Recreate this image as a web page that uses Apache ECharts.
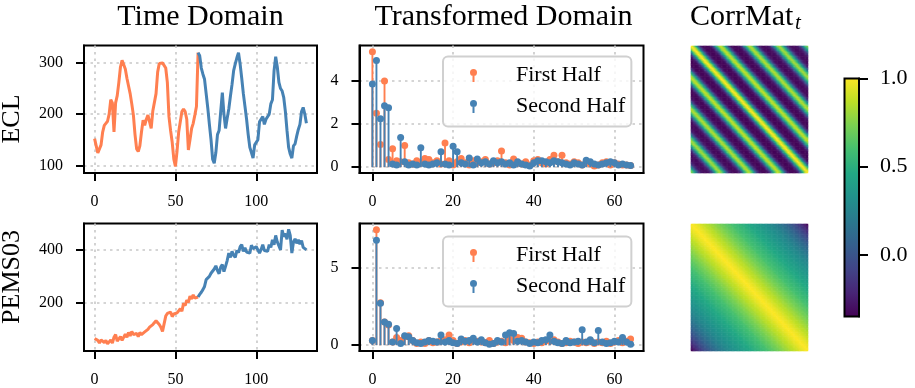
<!DOCTYPE html>
<html>
<head>
<meta charset="utf-8">
<script src="https://cdn.jsdelivr.net/npm/echarts@6/dist/echarts.min.js"></script>
<style>
  html, body { margin: 0; padding: 0; background: #fff; }
  #chart { width: 915px; height: 388px; }
</style>
</head>
<body>
<div id="chart"></div>
<script>
// ---- time domain: the series split in two halves (first half ends where the second starts)
const splitAt = 64
const eclFirst = [
  152,138,124,122,140,165,178,182,186,200,
  228,222,165,222,236,262,292,305,302,288,
  270,255,240,220,198,160,132,127,138,165,
  188,178,190,198,200,172,206,208,240,282,
  299,300,300,299,290,262,195,168,145,112,
  98,128,165,168,205,210,205,190,130,150,
  172,182,198,215,320
]
const eclSecond = [
  320,314,290,278,268,240,212,180,150,112,
  104,125,160,168,205,242,200,172,192,210,
  235,258,285,298,310,320,298,270,240,215,
  190,160,135,125,114,140,142,150,185,188,
  195,180,190,188,200,220,228,285,312,292,
  262,250,245,232,205,168,135,122,114,138,
  142,157,170,180,205,213,200,182
]
const pemsFirst = [
  65,62,58,48,60,55,50,58,45,42,
  60,48,70,80,55,62,72,58,65,82,
  70,88,75,92,80,78,85,72,88,80,
  82,90,86,100,108,102,118,115,132,128,
  118,108,92,86,150,160,155,165,148,158,
  152,162,170,178,168,198,190,210,202,225,
  215,230,218,212,222
]
const pemsSecond = [
  222,232,240,250,262,288,292,300,312,305,
  328,340,322,310,335,345,318,338,360,388,
  372,395,380,372,398,390,412,420,395,408,
  392,398,388,418,405,410,412,400,388,402,
  420,398,405,395,420,410,438,420,455,430,
  425,400,475,450,462,440,478,455,388,430,
  442,425,438,422,435,410,415,400
]

// ---- transformed domain: amplitude per frequency bin (0..64)
const eclSpecFirst = [
  5.35,2.5,1.05,4.0,0.35,0.85,0.3,0.25,1.0,0.2,
  0.15,0.3,0.2,0.4,0.35,0.2,0.3,0.15,1.12,0.3,
  0.1,0.25,0.4,0.2,0.1,0.3,0.2,0.25,0.35,0.15,
  0.2,0.3,0.75,0.2,0.1,0.38,0.2,0.15,0.25,0.1,
  0.3,0.35,0.2,0.15,0.35,0.55,0.25,0.55,0.2,0.15,
  0.25,0.2,0.1,0.2,0.15,0.05,0.1,0.2,0.25,0.1,
  0.2,0.15,0.1,0.1,0.08
]
const eclSpecSecond = [
  3.85,4.95,2.25,2.85,2.75,0.15,0.1,1.38,0.25,0.1,
  0.15,0.1,0.9,0.15,0.1,0.15,0.2,0.72,0.15,0.1,
  0.97,0.72,0.2,0.15,0.42,0.1,0.38,0.2,0.25,0.15,
  0.3,0.2,0.25,0.15,0.2,0.1,0.25,0.15,0.1,0.05,
  0.2,0.3,0.3,0.25,0.2,0.3,0.25,0.2,0.15,0.1,
  0.2,0.15,0.1,0.32,0.25,0.15,0.1,0.15,0.2,0.25,
  0.2,0.1,0.15,0.1,0.08
]
const pemsSpecFirst = [
  0.3,7.48,2.75,1.5,1.3,0.2,0.5,0.3,0.55,0.6,
  0.3,0.1,0.2,0.1,0.3,0.15,0.2,0.3,0.35,0.65,
  0.3,0.1,0.2,0.3,0.15,0.3,0.25,0.2,0.15,0.3,
  0.1,0.2,0.25,0.15,0.4,0.3,0.5,0.45,0.2,0.15,
  0.1,0.2,0.15,0.3,0.25,0.35,0.2,0.1,0.15,0.25,
  0.2,0.1,0.2,0.15,0.3,0.1,0.2,0.15,0.25,0.1,
  0.2,0.3,0.15,0.25,0.4
]
const pemsSpecSecond = [
  0.3,6.8,2.72,1.5,1.35,0.2,1.08,0.1,0.6,0.55,
  0.3,0.15,0.1,0.2,0.3,0.25,0.2,0.65,0.2,0.3,
  0.15,0.1,0.4,0.25,0.3,0.45,0.2,0.35,0.15,0.05,
  0.1,0.3,0.2,0.65,0.8,0.75,0.25,0.3,0.2,0.1,
  0.2,0.15,0.3,0.35,0.65,0.25,0.15,0.1,0.3,0.15,
  0.2,0.25,1.0,0.2,0.35,0.15,0.95,0.2,0.1,0.15,
  0.25,0.2,0.5,0.2,0.05
]

// ---- CorrMat_t: correlation as a function of lag |i-j| (96 x 96 matrices)
const eclLagCorr = [
  1.00,0.93,0.82,0.65,0.45,0.22,0.00,-0.15,-0.25,-0.30,-0.32,-0.33,-0.33,
  -0.33,-0.32,-0.30,-0.25,-0.15,0.00,0.20,0.40,0.58,0.72,0.82,0.87,
  0.82,0.72,0.57,0.39,0.19,-0.01,-0.15,-0.25,-0.30,-0.32,-0.33,-0.33,
  -0.32,-0.31,-0.29,-0.24,-0.15,-0.01,0.18,0.38,0.55,0.69,0.79,0.84,
  0.79,0.69,0.55,0.37,0.17,-0.02,-0.15,-0.24,-0.29,-0.31,-0.32,-0.32,
  -0.31,-0.30,-0.28,-0.23,-0.14,-0.01,0.17,0.36,0.53,0.66,0.76,0.81,
  0.76,0.66,0.52,0.35,0.16,-0.02,-0.15,-0.23,-0.28,-0.30,-0.31,-0.31,
  -0.30,-0.29,-0.27,-0.22,-0.14,-0.01,0.16,0.34,0.50,0.63,0.72
]
const pemsLagCorr = [
  1.00,0.99,0.98,0.97,0.96,0.95,0.94,0.92,0.91,0.90,
  0.88,0.87,0.86,0.85,0.84,0.82,0.81,0.80,0.79,0.77,
  0.76,0.75,0.74,0.72,0.71,0.70,0.69,0.67,0.66,0.65,
  0.64,0.63,0.61,0.60,0.59,0.58,0.57,0.56,0.55,0.54,
  0.53,0.52,0.51,0.50,0.49,0.48,0.47,0.46,0.45,0.44,
  0.43,0.42,0.41,0.40,0.39,0.38,0.37,0.36,0.35,0.34,
  0.33,0.32,0.31,0.30,0.29,0.28,0.27,0.26,0.24,0.23,
  0.22,0.20,0.19,0.17,0.16,0.14,0.12,0.11,0.09,0.07,
  0.05,0.03,0.01,-0.01,-0.03,-0.05,-0.08,-0.10,-0.12,-0.15,
  -0.17,-0.20,-0.23,-0.26,-0.29,-0.32
]

// ---- tick values
const timeXTicks = [0, 50, 100]
const freqXTicks = [0, 20, 40, 60]
const eclTimeYTicks = [100, 200, 300]
const pemsTimeYTicks = [200, 400]
const eclFreqYTicks = [0, 2, 4]
const pemsFreqYTicks = [0, 5]
const cbarTicks = [0, 0.5, 1.0]
const corrMin = -0.35
const corrMax = 1.0

const ORANGE = '#FF7F50'
const BLUE = '#4682B4'
const FONT = 'Liberation Serif'
const VIRIDIS = ['#440154','#482475','#414487','#355f8d','#2a788e','#21918c','#22a884','#44bf70','#7ad151','#bddf26','#fde725']
const STEM_ICON = 'path://M0,3.5A3.5,3.5 0 1,1 7,3.5A3.5,3.5 0 1,1 0,3.5ZM2.5,5L4.5,5L4.5,13L2.5,13Z'

// helpers
const withX = (arr, start) => arr.map((v, i) => [start + i, v])
function corrCells(lag) {
  const n = lag.length, cells = []
  for (let i = 0; i < n; i++) for (let j = 0; j < n; j++) cells.push([j, i, lag[Math.abs(i - j)]])
  return cells
}
const frame = { show: true, borderColor: '#000', borderWidth: 2, backgroundColor: 'transparent' }
function valueAxis(gridIndex, min, max, ticks, extra) {
  return Object.assign({
    type: 'value', gridIndex, min, max,
    axisLine: { show: true, onZero: false, lineStyle: { color: '#000', width: 2 } },
    axisTick: { show: true, customValues: ticks, length: 8, lineStyle: { color: '#000', width: 2 } },
    axisLabel: { customValues: ticks, margin: 21, color: '#000', fontFamily: FONT, fontSize: 16 },
    splitLine: { show: true, lineStyle: { color: '#c8c8c8', type: [2.5, 4], width: 1.6 } }
  }, extra || {})
}
const hiddenCat = (gridIndex, n, inverse) => ({
  type: 'category', gridIndex, inverse: !!inverse, show: false,
  data: Array.from({ length: n }, (_, i) => i)
})
function timeLine(name, data, color, xi) {
  return { type: 'line', name, xAxisIndex: xi, yAxisIndex: xi, data, showSymbol: false,
    lineStyle: { color, width: 3 }, itemStyle: { color }, silent: true }
}
function stems(name, values, color, xi) {
  return {
    type: 'custom', name, xAxisIndex: xi, yAxisIndex: xi, data: withX(values, 0),
    itemStyle: { color }, silent: true,
    renderItem(params, api) {
      const base = api.coord([api.value(0), 0])
      const top = api.coord([api.value(0), api.value(1)])
      return { type: 'group', children: [
        { type: 'line', shape: { x1: base[0], y1: base[1], x2: top[0], y2: top[1] }, style: { stroke: color, lineWidth: 1.9 } },
        { type: 'circle', shape: { cx: top[0], cy: top[1], r: 3.5 }, style: { fill: color } }
      ] }
    }
  }
}
function stemLegend(top) {
  return {
    left: 443, top, orient: 'vertical', selectedMode: false,
    data: [{ name: 'First Half', icon: STEM_ICON }, { name: 'Second Half', icon: STEM_ICON }],
    itemWidth: 7, itemHeight: 13, itemGap: 9, padding: [8, 6, 9, 27],
    textStyle: { fontFamily: FONT, fontSize: 22, color: '#000', padding: [0, 0, 0, 34] },
    backgroundColor: 'rgba(255,255,255,0.8)', borderColor: '#d0d0d0', borderWidth: 2, borderRadius: 5
  }
}

const chart = echarts.init(document.getElementById('chart'))
chart.setOption({
  animation: false,
  textStyle: { fontFamily: FONT },
  grid: [
    Object.assign({ left: 84, top: 45.5, width: 233, height: 127.5 }, frame),
    Object.assign({ left: 359.5, top: 45.5, width: 284, height: 127.5 }, frame),
    { left: 691, top: 46, width: 117, height: 127 },
    Object.assign({ left: 84, top: 223.5, width: 233, height: 128.5 }, frame),
    Object.assign({ left: 359.5, top: 223.5, width: 284, height: 128.5 }, frame),
    { left: 691, top: 224, width: 117, height: 127 },
    { left: 844.5, top: 78.5, width: 14.5, height: 238, show: true, borderColor: '#000', borderWidth: 2,
      backgroundColor: new echarts.graphic.LinearGradient(0, 1, 0, 0,
        VIRIDIS.map((c, i) => ({ offset: i / (VIRIDIS.length - 1), color: c }))) }
  ],
  xAxis: [
    valueAxis(0, -6.55, 137.55, timeXTicks),
    valueAxis(1, -3.2, 67.2, freqXTicks),
    hiddenCat(2, eclLagCorr.length),
    valueAxis(3, -6.55, 137.55, timeXTicks),
    valueAxis(4, -3.2, 67.2, freqXTicks),
    hiddenCat(5, pemsLagCorr.length),
    { type: 'value', gridIndex: 6, show: false, min: 0, max: 1 }
  ],
  yAxis: [
    valueAxis(0, 85, 334, eclTimeYTicks),
    valueAxis(1, -0.27, 5.64, eclFreqYTicks),
    hiddenCat(2, eclLagCorr.length, true),
    valueAxis(3, 18, 500, pemsTimeYTicks),
    valueAxis(4, -0.38, 7.88, pemsFreqYTicks),
    hiddenCat(5, pemsLagCorr.length, true),
    valueAxis(6, corrMin, corrMax, cbarTicks, {
      position: 'right', splitLine: { show: false },
      axisTick: { show: true, customValues: cbarTicks, length: 9, lineStyle: { color: '#000', width: 2 } },
      axisLabel: { customValues: cbarTicks, margin: 21, color: '#000', fontFamily: FONT, fontSize: 22,
        formatter: v => v.toFixed(1) }
    })
  ],
  legend: [stemLegend(56.5), stemLegend(236.5)],
  visualMap: {
    type: 'continuous', show: false, min: corrMin, max: corrMax,
    seriesIndex: [8, 9], inRange: { color: VIRIDIS }
  },
  series: [
    timeLine('ECL first', withX(eclFirst, 0), ORANGE, 0),
    timeLine('ECL second', withX(eclSecond, splitAt), BLUE, 0),
    timeLine('PEMS first', withX(pemsFirst, 0), ORANGE, 3),
    timeLine('PEMS second', withX(pemsSecond, splitAt), BLUE, 3),
    stems('First Half', eclSpecFirst, ORANGE, 1),
    stems('Second Half', eclSpecSecond, BLUE, 1),
    stems('First Half', pemsSpecFirst, ORANGE, 4),
    stems('Second Half', pemsSpecSecond, BLUE, 4),
    { type: 'heatmap', xAxisIndex: 2, yAxisIndex: 2, data: corrCells(eclLagCorr), progressive: 0, silent: true },
    { type: 'heatmap', xAxisIndex: 5, yAxisIndex: 5, data: corrCells(pemsLagCorr), progressive: 0, silent: true }
  ],
  graphic: [
    { type: 'text', x: 200.5, y: 17, style: { text: 'Time Domain', font: '30px "Liberation Serif"', fill: '#000', align: 'center', verticalAlign: 'middle' } },
    { type: 'text', x: 503.5, y: 17, style: { text: 'Transformed Domain', font: '30px "Liberation Serif"', fill: '#000', align: 'center', verticalAlign: 'middle' } },
    { type: 'text', x: 690, y: 17, style: { text: 'CorrMat', font: '30px "Liberation Serif"', fill: '#000', align: 'left', verticalAlign: 'middle' } },
    { type: 'text', x: 795, y: 23, style: { text: 't', font: 'italic 21px "Liberation Serif"', fill: '#000', align: 'left', verticalAlign: 'middle' } },
    { type: 'text', x: 12, y: 119, rotation: Math.PI / 2, style: { text: 'ECL', font: '26px "Liberation Serif"', fill: '#000', align: 'center', verticalAlign: 'middle' } },
    { type: 'text', x: 12, y: 277, rotation: Math.PI / 2, style: { text: 'PEMS03', font: '26px "Liberation Serif"', fill: '#000', align: 'center', verticalAlign: 'middle' } }
  ]
})
window.addEventListener('resize', () => { chart.resize() })
</script>
</body>
</html>
